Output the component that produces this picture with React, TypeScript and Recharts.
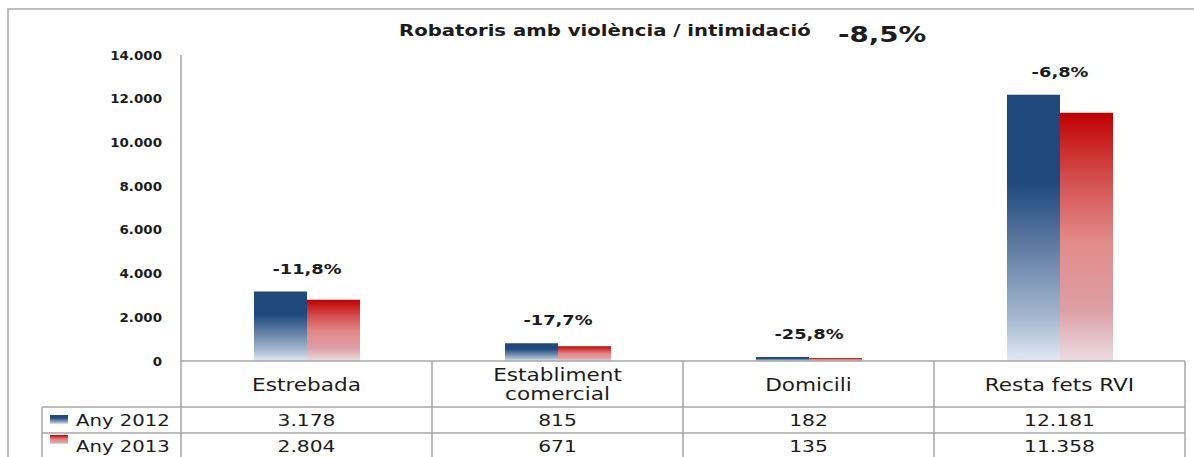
import { BarChart, Bar, XAxis, YAxis, LabelList } from 'recharts';

const FONT = "'DejaVu Sans', Verdana, sans-serif";
const INK = '#1c1c1c';
const RULE = '#a6a6a6';

const title = 'Robatoris amb violència / intimidació';
const totalChange = '-8,5%';
const categories = ['Estrebada', 'Establiment comercial', 'Domicili', 'Resta fets RVI'];
const categoryLines = [['Estrebada'], ['Establiment', 'comercial'], ['Domicili'], ['Resta fets RVI']];
const seriesNames = ['Any 2012', 'Any 2013'];
const values2012 = [3178, 815, 182, 12181];
const values2013 = [2804, 671, 135, 11358];
const changeLabels = ['-11,8%', '-17,7%', '-25,8%', '-6,8%'];
const yTicks = [0, 2000, 4000, 6000, 8000, 10000, 12000, 14000];

const fmt = (n: number) => String(n).replace(/\B(?=(\d{3})+(?!\d))/g, '.');

const data = categories.map((name, i) => ({ name, y2012: values2012[i], y2013: values2013[i] }));

// the source image is stretched sideways, so text gets a horizontal scale
function SText({ x, y, size, sx = 1.27, weight = 'normal', anchor = 'middle', children }: any) {
  return (
    <text
      transform={`translate(${x},${y}) scale(${sx},1)`}
      textAnchor={anchor}
      fontSize={size}
      fontWeight={weight}
      fontFamily={FONT}
      fill={INK}
    >
      {children}
    </text>
  );
}

function YTick({ x, y, payload }: any) {
  return (
    <SText x={x} y={y + 4.5} size={12} sx={1.12} weight="bold" anchor="end">
      {fmt(payload.value)}
    </SText>
  );
}

function TableTick({ x, y, payload }: any) {
  const i = payload.index;
  const half = payload.offset > 0 ? payload.offset : 125.5;
  const left = x - half;
  const right = x + half;
  const r1 = y + 46;
  const r2 = y + 72;
  const bottom = y + 100;
  const lines = categoryLines[i];
  return (
    <g>
      <line x1={right} y1={y} x2={right} y2={bottom} stroke={RULE} strokeWidth={1.5} />
      {i === 0 && <line x1={left} y1={y} x2={left} y2={bottom} stroke={RULE} strokeWidth={1.5} />}
      <line x1={i === 0 ? 42 : left} y1={r1} x2={right} y2={r1} stroke={RULE} strokeWidth={1.5} />
      <line x1={i === 0 ? 42 : left} y1={r2} x2={right} y2={r2} stroke={RULE} strokeWidth={1.5} />
      {i === 0 && (
        <g>
          <line x1={42} y1={r1} x2={42} y2={bottom} stroke={RULE} strokeWidth={1.5} />
          <rect x={50} y={y + 54} width={18} height={9} fill="url(#gBlue)" />
          <SText x={76} y={y + 65} size={15.5} anchor="start">{seriesNames[0]}</SText>
          <rect x={50} y={y + 74} width={18} height={9} fill="url(#gRed)" />
          <SText x={76} y={y + 91} size={15.5} anchor="start">{seriesNames[1]}</SText>
        </g>
      )}
      {lines.map((t: string, k: number) => (
        <SText key={k} x={x} y={lines.length === 1 ? y + 30 : y + 20 + k * 19} size={17}>
          {t}
        </SText>
      ))}
      <SText x={x} y={y + 65} size={15} sx={1.35}>{fmt(values2012[i])}</SText>
      <SText x={x} y={y + 91} size={15} sx={1.35}>{fmt(values2013[i])}</SText>
    </g>
  );
}

function ChangeLabel(props: any) {
  const { x, y, width, index } = props;
  return (
    <SText x={x + width} y={y - 18} size={13.5} sx={1.32} weight="bold">
      {changeLabels[index]}
    </SText>
  );
}

export default function App() {
  return (
    <div style={{ position: 'absolute', left: 0, top: 0, width: 1194, height: 457, background: '#fff', overflow: 'hidden' }}>
      <svg width={1194} height={457} style={{ position: 'absolute', left: 0, top: 0 }}>
        <rect x={8} y={9} width={1200} height={470} fill="none" stroke={RULE} strokeWidth={1.5} />
        <SText x={399} y={36} size={15.5} weight="bold" anchor="start">{title}</SText>
        <SText x={838} y={42} size={22} sx={1.26} weight="bold" anchor="start">{totalChange}</SText>
      </svg>
      <div style={{ position: 'absolute', left: 0, top: 0 }}>
        <BarChart
          width={1194}
          height={457}
          data={data}
          margin={{ top: 55, right: 9, bottom: 0, left: 0 }}
          barGap={0}
        >
          <defs>
            <linearGradient id="gBlue" x1="0" y1="0" x2="0" y2="1">
              <stop offset="0" stopColor="#1f497d" />
              <stop offset="0.33" stopColor="#1f497d" />
              <stop offset="0.6" stopColor="#6782a8" />
              <stop offset="0.85" stopColor="#a9bbd2" />
              <stop offset="1" stopColor="#e2e9f4" />
            </linearGradient>
            <linearGradient id="gRed" x1="0" y1="0" x2="0" y2="1">
              <stop offset="0" stopColor="#c00000" />
              <stop offset="0.25" stopColor="#d34a4a" />
              <stop offset="0.52" stopColor="#e38a8a" />
              <stop offset="0.8" stopColor="#dca0a6" />
              <stop offset="1" stopColor="#ebdde3" />
            </linearGradient>
          </defs>
          <XAxis
            dataKey="name"
            height={96}
            interval={0}
            tickLine={false}
            tickSize={0}
            tickMargin={0}
            axisLine={{ stroke: RULE, strokeWidth: 1.5 }}
            tick={<TableTick />}
          />
          <YAxis
            width={181}
            domain={[0, 14000]}
            ticks={yTicks}
            interval={0}
            tickLine={false}
            tickSize={0}
            tickMargin={19}
            axisLine={{ stroke: RULE, strokeWidth: 1.5 }}
            tick={<YTick />}
          />
          <Bar dataKey="y2012" name={seriesNames[0]} fill="url(#gBlue)" barSize={53} isAnimationActive={false}>
            <LabelList dataKey="y2012" content={<ChangeLabel />} />
          </Bar>
          <Bar dataKey="y2013" name={seriesNames[1]} fill="url(#gRed)" barSize={53} isAnimationActive={false} />
        </BarChart>
      </div>
    </div>
  );
}
